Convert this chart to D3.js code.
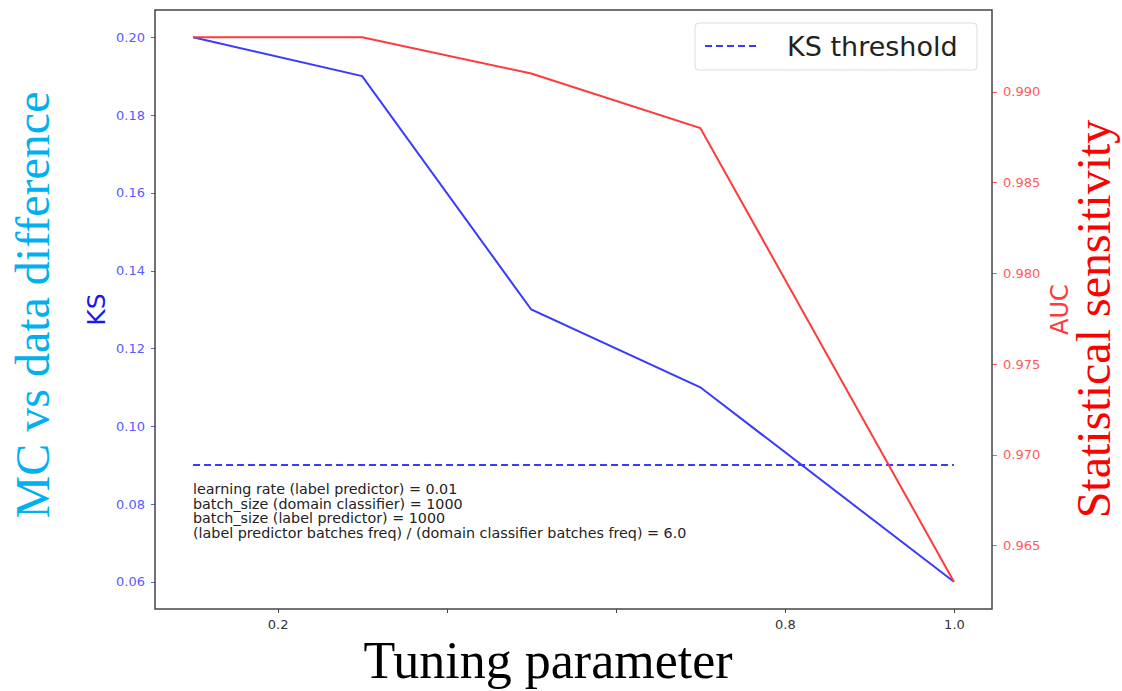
<!DOCTYPE html>
<html>
<head>
<meta charset="utf-8">
<script src="https://cdn.jsdelivr.net/npm/d3@7"></script>
<style>
  body { margin: 0; background: #fff; }
  svg { display: block; }
  .axis path, .axis line { shape-rendering: crispEdges; }
</style>
</head>
<body>
<svg id="chart" width="1122" height="691"></svg>
<script>
// data
var tuning = [0.1, 0.3, 0.5, 0.7, 1.0]
var ks = [0.20, 0.19, 0.13, 0.11, 0.06]
var auc = [0.993, 0.993, 0.991, 0.988, 0.963]
var ksThreshold = 0.09
var xTicks = [0.2, 0.4, 0.6, 0.8, 1.0]
var ksTicks = [0.06, 0.08, 0.10, 0.12, 0.14, 0.16, 0.18, 0.20]
var aucTicks = [0.965, 0.970, 0.975, 0.980, 0.985, 0.990]
var notes = [
   "learning rate (label predictor) = 0.01",
   "batch_size (domain classifier) = 1000",
   "batch_size (label predictor) = 1000",
   "(label predictor batches freq) / (domain classifier batches freq) = 6.0"
]

var plot = {left: 155, right: 992, top: 10, bottom: 609}
var sans = "DejaVu Sans, sans-serif"
var serif = "Liberation Serif, Times New Roman, serif"

var svg = d3.select("#chart")

var xScale = d3.scaleLinear().domain([0.055, 1.045]).range([plot.left, plot.right])
var ksScale = d3.scaleLinear().domain([0.053, 0.207]).range([plot.bottom, plot.top])
var aucScale = d3.scaleLinear().domain([0.9615, 0.9945]).range([plot.bottom, plot.top])

// axes
var xAxis = d3.axisBottom(xScale).tickValues(xTicks).tickFormat(d3.format(".1f")).tickSize(4).tickPadding(7)
var ksAxis = d3.axisLeft(ksScale).tickValues(ksTicks).tickFormat(d3.format(".2f")).tickSize(4).tickPadding(6)
var aucAxis = d3.axisRight(aucScale).tickValues(aucTicks).tickFormat(d3.format(".3f")).tickSize(5).tickPadding(6)

var gx = svg.append("g")
   .attr("class", "axis")
   .attr("transform", "translate(0," + plot.bottom + ")")
   .call(xAxis)
gx.select(".domain").remove()
gx.selectAll("line").attr("stroke", "#444")
gx.selectAll("text").attr("fill", "#333").style("font", "13px " + sans)

var gl = svg.append("g")
   .attr("class", "axis")
   .attr("transform", "translate(" + plot.left + ",0)")
   .call(ksAxis)
gl.select(".domain").remove()
gl.selectAll("line").attr("stroke", "#5a5aff")
gl.selectAll("text").attr("fill", "#5a5aff").style("font", "13px " + sans)

var gr = svg.append("g")
   .attr("class", "axis")
   .attr("transform", "translate(" + plot.right + ",0)")
   .call(aucAxis)
gr.select(".domain").remove()
gr.selectAll("line").attr("stroke", "#ff5a5a")
gr.selectAll("text").attr("fill", "#ff5a5a").style("font", "13px " + sans)

// frame
svg.append("rect")
   .attr("x", plot.left)
   .attr("y", plot.top)
   .attr("width", plot.right - plot.left)
   .attr("height", plot.bottom - plot.top)
   .attr("fill", "none")
   .attr("stroke", "#444")
   .attr("stroke-width", 1.5)

// threshold line
svg.append("line")
   .attr("x1", xScale(tuning[0]))
   .attr("x2", xScale(tuning[tuning.length - 1]))
   .attr("y1", ksScale(ksThreshold))
   .attr("y2", ksScale(ksThreshold))
   .attr("stroke", "#3a3aff")
   .attr("stroke-width", 2)
   .attr("stroke-dasharray", "7,4")

var ksLine = d3.line().x((d, i) => xScale(tuning[i])).y(d => ksScale(d))
var aucLine = d3.line().x((d, i) => xScale(tuning[i])).y(d => aucScale(d))

svg.append("path")
   .datum(ks)
   .attr("d", ksLine)
   .attr("fill", "none")
   .attr("stroke", "#3a3aff")
   .attr("stroke-width", 2)

svg.append("path")
   .datum(auc)
   .attr("d", aucLine)
   .attr("fill", "none")
   .attr("stroke", "#ff3a3a")
   .attr("stroke-width", 2)

// notes block
svg.append("g")
   .selectAll("text")
   .data(notes)
   .join("text")
   .attr("x", xScale(tuning[0]))
   .attr("y", (d, i) => 494 + i * 14.7)
   .attr("fill", "#222")
   .style("font", "14.3px " + sans)
   .text(d => d)

// legend
var legend = svg.append("g")
legend.append("rect")
   .attr("x", 695).attr("y", 23)
   .attr("width", 282).attr("height", 47)
   .attr("rx", 4)
   .attr("fill", "#fff")
   .attr("stroke", "#ddd")
legend.append("line")
   .attr("x1", 705).attr("x2", 760)
   .attr("y1", 46).attr("y2", 46)
   .attr("stroke", "#3a3aff")
   .attr("stroke-width", 2)
   .attr("stroke-dasharray", "7,4")
legend.append("text")
   .attr("x", 787).attr("y", 56)
   .attr("fill", "#222")
   .style("font", "27px " + sans)
   .text("KS threshold")

// inner axis labels
svg.append("text")
   .attr("transform", "translate(105," + ((plot.top + plot.bottom) / 2) + ") rotate(-90)")
   .attr("text-anchor", "middle")
   .attr("fill", "#1a1aee")
   .style("font", "25px " + sans)
   .text("KS")

svg.append("text")
   .attr("transform", "translate(1068," + ((plot.top + plot.bottom) / 2) + ") rotate(-90)")
   .attr("text-anchor", "middle")
   .attr("fill", "#ff3a3a")
   .style("font", "24px " + sans)
   .text("AUC")

// big outer labels
svg.append("text")
   .attr("transform", "translate(49,305) rotate(-90)")
   .attr("text-anchor", "middle")
   .attr("fill", "#00b0f0")
   .style("font", "48px " + serif)
   .text("MC vs data difference")

svg.append("text")
   .attr("transform", "translate(1110,319) rotate(-90)")
   .attr("text-anchor", "middle")
   .attr("fill", "#ff0000")
   .style("font", "48px " + serif)
   .text("Statistical sensitivity")

// white box behind bottom title (hides 0.4 / 0.6 labels like the original)
svg.append("rect")
   .attr("x", 330).attr("y", 620)
   .attr("width", 430).attr("height", 71)
   .attr("fill", "#fff")

svg.append("text")
   .attr("x", 548).attr("y", 678)
   .attr("text-anchor", "middle")
   .attr("fill", "#000")
   .style("font", "52px " + serif)
   .text("Tuning parameter")
</script>
</body>
</html>
